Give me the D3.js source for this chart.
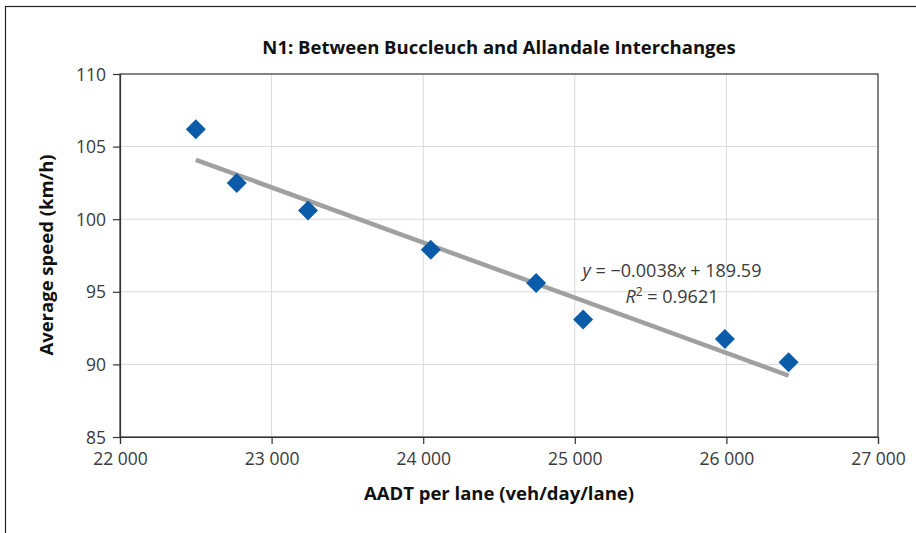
<!DOCTYPE html>
<html>
<head>
<meta charset="utf-8">
<script src="https://cdn.jsdelivr.net/npm/d3@7"></script>
<style>
  body { margin: 0; background: #fff; }
  svg text { font-family: "Open Sans", "Noto Sans", sans-serif; }
</style>
</head>
<body>
<svg id="chart" width="916" height="533"></svg>
<script>
// data
const aadt  = [22500, 22770, 23240, 24050, 24745, 25055, 25990, 26410];
const speed = [106.2, 102.5, 100.6, 97.9, 95.6, 93.1, 91.75, 90.15];
const xTicks = [22000, 23000, 24000, 25000, 26000, 27000];
const yTicks = [85, 90, 95, 100, 105, 110];
const trend = { slope: -0.0038, intercept: 189.59, r2: 0.9621 };

const svg = d3.select("#chart");
const margin = { left: 120, top: 74, right: 878, bottom: 437 };

const x = d3.scaleLinear().domain([22000, 27000]).range([margin.left, margin.right]);
const y = d3.scaleLinear().domain([85, 110]).range([margin.bottom, margin.top]);

// outer frame (cut off at right and bottom)
svg.append("rect")
  .attr("x", 5.5).attr("y", 6.5)
  .attr("width", 920).attr("height", 540)
  .attr("fill", "none").attr("stroke", "#222").attr("stroke-width", 1.2);

// grid
svg.append("g").selectAll("line.vg")
  .data(xTicks.slice(1, -1)).enter().append("line")
  .attr("x1", d => x(d)).attr("x2", d => x(d))
  .attr("y1", margin.top).attr("y2", margin.bottom)
  .attr("stroke", "#d9d9d9").attr("stroke-width", 1);

svg.append("g").selectAll("line.hg")
  .data(yTicks.slice(1, -1)).enter().append("line")
  .attr("x1", margin.left).attr("x2", margin.right)
  .attr("y1", d => y(d)).attr("y2", d => y(d))
  .attr("stroke", "#d9d9d9").attr("stroke-width", 1);

// plot box
svg.append("rect")
  .attr("x", margin.left).attr("y", margin.top)
  .attr("width", margin.right - margin.left).attr("height", margin.bottom - margin.top)
  .attr("fill", "none").attr("stroke", "#333").attr("stroke-width", 1.2);

// axes
const fmt = d => d3.format(",")(d).replace(",", " ");
const xAxis = svg.append("g")
  .attr("transform", `translate(0,${margin.bottom})`)
  .call(d3.axisBottom(x).tickValues(xTicks).tickFormat(fmt).tickSize(7).tickPadding(9));
const yAxis = svg.append("g")
  .attr("transform", `translate(${margin.left},0)`)
  .call(d3.axisLeft(y).tickValues(yTicks).tickSize(7).tickPadding(7));

[xAxis, yAxis].forEach(a => {
  a.select(".domain").attr("stroke", "#333").attr("stroke-width", 1.2);
  a.selectAll(".tick line").attr("stroke", "#333").attr("stroke-width", 1.2);
  a.selectAll(".tick text")
    .attr("fill", "#3a3a3a")
    .style("font-size", "17.5px")
    .style("font-weight", 400)
    .style("font-family", "'Open Sans', 'Noto Sans', sans-serif");
});
yAxis.selectAll(".tick text").attr("dy", "0.35em");

// trend line
const tx = [d3.min(aadt), d3.max(aadt)];
svg.append("line")
  .attr("x1", x(tx[0])).attr("y1", y(trend.slope * tx[0] + trend.intercept))
  .attr("x2", x(tx[1])).attr("y2", y(trend.slope * tx[1] + trend.intercept))
  .attr("stroke", "#a0a0a0").attr("stroke-width", 4.5);

// points
svg.append("g").selectAll("path")
  .data(aadt.map((d, i) => [d, speed[i]])).enter().append("path")
  .attr("d", d3.symbol().type(d3.symbolSquare).size(200))
  .attr("transform", d => `translate(${x(d[0])},${y(d[1])}) rotate(45)`)
  .attr("fill", "#0a5ca8");

// equation
const eq = svg.append("text")
  .attr("x", 672).attr("y", 277)
  .attr("text-anchor", "middle")
  .attr("fill", "#3a3a3a")
  .style("font-size", "18px").style("font-weight", 400);
eq.append("tspan").style("font-style", "italic").text("y");
eq.append("tspan").text(" = \u22120.0038");
eq.append("tspan").style("font-style", "italic").text("x");
eq.append("tspan").text(" + " + trend.intercept);

const r2 = svg.append("text")
  .attr("x", 672).attr("y", 303)
  .attr("text-anchor", "middle")
  .attr("fill", "#3a3a3a")
  .style("font-size", "18px").style("font-weight", 400);
r2.append("tspan").style("font-style", "italic").text("R");
r2.append("tspan").attr("dy", -7).style("font-size", "12px").text("2");
r2.append("tspan").attr("dy", 7).text(" = " + trend.r2);

// title and axis titles
svg.append("text")
  .attr("x", 499).attr("y", 54)
  .attr("text-anchor", "middle")
  .attr("fill", "#111")
  .style("font-size", "18.5px").style("font-weight", 700)
  .text("N1: Between Buccleuch and Allandale Interchanges");

svg.append("text")
  .attr("x", 499).attr("y", 500)
  .attr("text-anchor", "middle")
  .attr("fill", "#111")
  .style("font-size", "18.5px").style("font-weight", 700)
  .text("AADT per lane (veh/day/lane)");

svg.append("text")
  .attr("transform", "translate(53,255) rotate(-90)")
  .attr("text-anchor", "middle")
  .attr("fill", "#111")
  .style("font-size", "18.5px").style("font-weight", 700)
  .text("Average speed (km/h)");
</script>
</body>
</html>
